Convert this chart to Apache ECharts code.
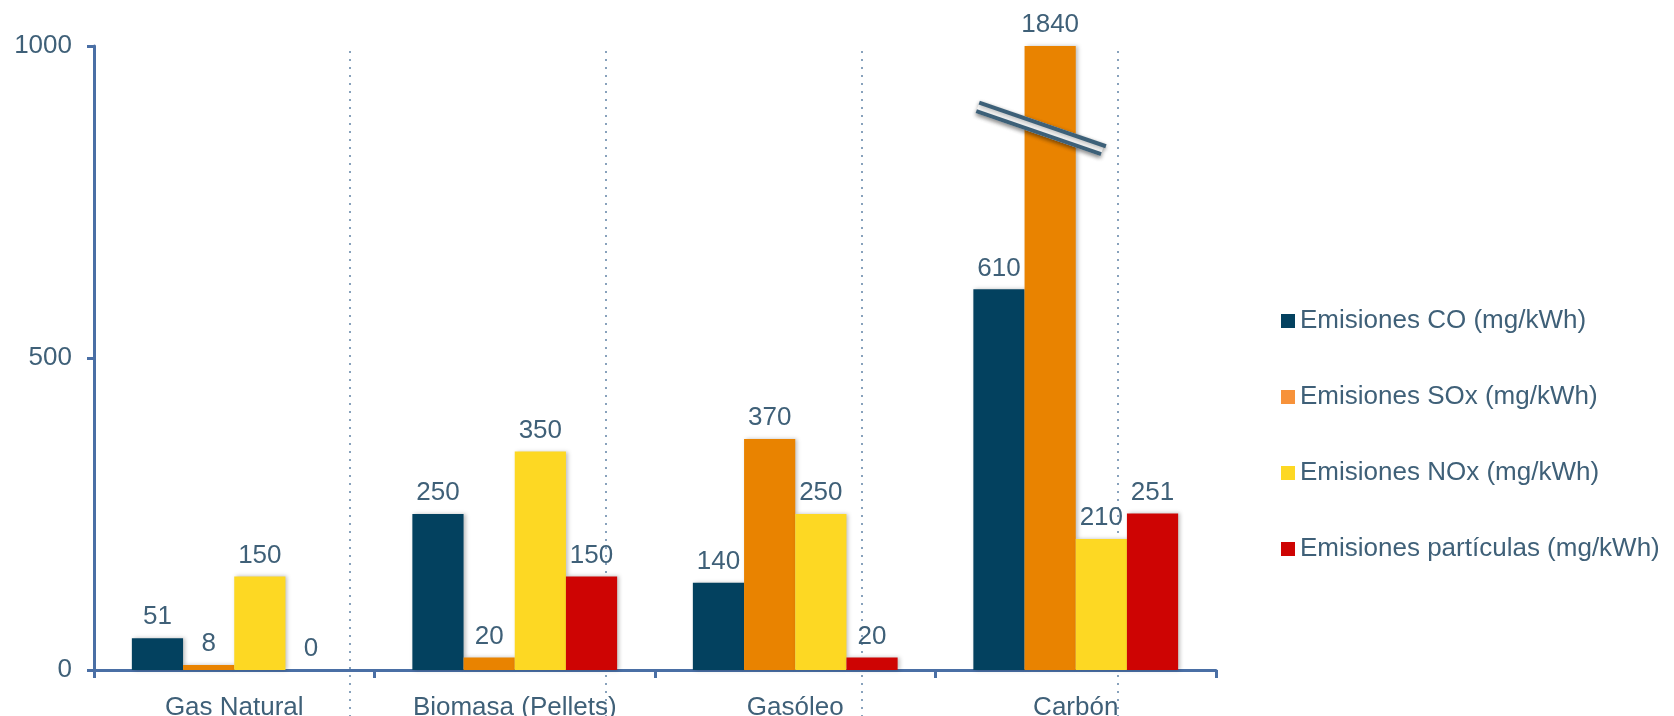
<!DOCTYPE html>
<html>
<head>
<meta charset="utf-8">
<script src="https://cdn.jsdelivr.net/npm/echarts@6/dist/echarts.min.js"></script>
<style>
  html, body { margin: 0; padding: 0; background: #fff; }
  #chart { width: 1674px; height: 716px; }
</style>
</head>
<body>
<div id="chart"></div>
<script>
var categories = ["Gas Natural", "Biomasa (Pellets)", "Gasóleo", "Carbón"];
var seriesNames = [
  "Emisiones CO (mg/kWh)",
  "Emisiones SOx (mg/kWh)",
  "Emisiones NOx (mg/kWh)",
  "Emisiones partículas (mg/kWh)"
];
var coValues = [51, 250, 140, 610];
var soxValues = [8, 20, 370, 1840];
var noxValues = [150, 350, 250, 210];
var particulasValues = [0, 150, 20, 251];
var yMin = 0;
var yMax = 1000;
var yStep = 500;

var allValues = [coValues, soxValues, noxValues, particulasValues];
var barColors = ["#03415F", "#E98300", "#FDD823", "#CE0403"];
var legendColors = ["#03415F", "#F7923A", "#FDD823", "#CE0403"];
var textColor = "#3F6078";
var axisColor = "#4A6FA5";
var font = "Liberation Sans, Arial, sans-serif";
var fontSize = 26;

var chart = echarts.init(document.getElementById("chart"));

var series = allValues.map(function (vals, i) {
  return {
    name: seriesNames[i],
    type: "bar",
    xAxisIndex: 0,
    yAxisIndex: 0,
    barGap: "0%",
    barCategoryGap: "27%",
    // las barras que pasan del máximo se cortan en el tope del eje
    data: vals.map(function (v) { return Math.min(v, yMax); }),
    itemStyle: {
      color: barColors[i],
      shadowColor: "rgba(0,0,0,0.25)",
      shadowBlur: 4,
      shadowOffsetX: 2,
      shadowOffsetY: 0
    },
    label: {
      show: true,
      position: "top",
      distance: 8,
      color: textColor,
      fontSize: fontSize,
      fontFamily: font,
      formatter: function (p) { return vals[p.dataIndex]; }
    }
  };
});

var option = {
  animation: false,
  backgroundColor: "#fff",
  textStyle: { fontFamily: font },
  grid: [
    { left: 94, right: 458, top: 46, bottom: 46, outerBoundsMode: "none", containLabel: false },
    { left: 94, right: 458, top: 51, bottom: 0, outerBoundsMode: "none", containLabel: false }
  ],
  legend: {
    orient: "vertical",
    left: 1276,
    top: 303,
    itemWidth: 14,
    itemHeight: 14,
    itemGap: 50,
    icon: "rect",
    textStyle: { color: textColor, fontSize: fontSize, fontFamily: font },
    data: seriesNames.map(function (n, i) {
      return { name: n, itemStyle: { color: legendColors[i] } };
    })
  },
  xAxis: [
    {
      type: "category",
      gridIndex: 0,
      data: categories,
      axisLine: { lineStyle: { color: axisColor, width: 3 } },
      axisTick: { show: true, length: 8, inside: false, lineStyle: { color: axisColor, width: 3 } },
      axisLabel: { color: textColor, fontSize: fontSize, fontFamily: font, margin: 25 },
      splitLine: { show: false }
    },
    {
      // líneas punteadas de fondo
      type: "value",
      gridIndex: 1,
      min: 0,
      max: 4.383,
      interval: 1,
      axisLine: { show: false },
      axisTick: { show: false },
      axisLabel: { show: false },
      splitLine: {
        show: true,
        showMinLine: false,
        showMaxLine: false,
        lineStyle: { color: "#88A2BC", width: 2, type: [2, 6] }
      }
    }
  ],
  yAxis: [
    {
      type: "value",
      gridIndex: 0,
      min: yMin,
      max: yMax,
      interval: yStep,
      axisLine: { show: true, lineStyle: { color: axisColor, width: 3 } },
      axisTick: { show: true, length: 7, lineStyle: { color: axisColor, width: 3 } },
      axisLabel: {
        color: textColor, fontSize: fontSize, fontFamily: font, margin: 22,
        formatter: function (v) { return String(v); }
      },
      splitLine: { show: false }
    },
    {
      type: "value",
      gridIndex: 1,
      min: 0,
      max: 1,
      show: false
    }
  ],
  series: series
};

chart.setOption(option);

// marca de corte sobre la barra de SOx del carbón
var breakValue = 868;
var catCenter = chart.convertToPixel({ xAxisIndex: 0 }, categories[3]);
var bandW = 1122 / categories.length;
var barW = bandW * 0.73 / 4;
var cx = catCenter - barW * 0.5 - 10;
var cy = chart.convertToPixel({ yAxisIndex: 0 }, breakValue);
var ang = 19 * Math.PI / 180;
var dx = Math.cos(ang), dy = Math.sin(ang);
var nx = -Math.sin(ang), ny = Math.cos(ang);
var half = 66;
function seg(offset, width, color, extra) {
  return {
    type: "line",
    z: 100,
    shape: {
      x1: cx - dx * half + nx * offset,
      y1: cy - dy * half + ny * offset,
      x2: cx + dx * (half + (extra || 0)) + nx * offset,
      y2: cy + dy * (half + (extra || 0)) + ny * offset
    },
    style: { stroke: color, lineWidth: width, shadowBlur: 4, shadowColor: "rgba(0,0,0,0.3)", shadowOffsetY: 2 }
  };
}
chart.setOption({
  graphic: [
    seg(0, 13, "#ffffff"),
    seg(-4.5, 4, "#3D6078", 2),
    seg(4.5, 4, "#3D6078")
  ]
});
</script>
</body>
</html>
